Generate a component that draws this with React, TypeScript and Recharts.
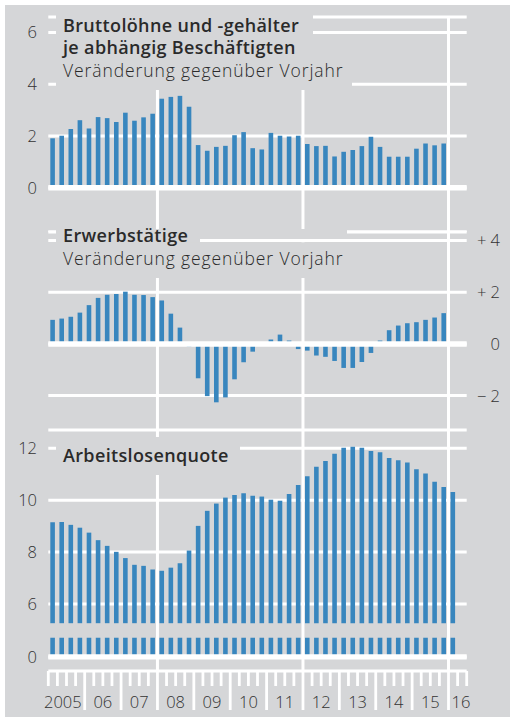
import React from 'react';
import { BarChart, Bar, XAxis, YAxis, CartesianGrid, ReferenceLine } from 'recharts';

// ---------- data ----------
const years: string[] = ['2005', '2006', '2007', '2008', '2009', '2010', '2011', '2012', '2013', '2014', '2015', '2016'];
const yearLabels: string[] = ['2005', '06', '07', '08', '09', '10', '11', '12', '13', '14', '15', '16'];
const quarterNames: string[] = ['Q1', 'Q2', 'Q3', 'Q4'];
const QUARTER_COUNT = 46; // 2005Q1 … 2016Q2 on the time axis

// Bruttolöhne und -gehälter je abhängig Beschäftigten, % ggü. Vorjahr (2005Q1–2015Q4)
const wages: number[] = [
  1.91, 2.01, 2.27, 2.61, 2.29, 2.73, 2.69, 2.54, 2.9, 2.59, 2.72, 2.86,
  3.44, 3.51, 3.55, 3.13, 1.65, 1.43, 1.58, 1.62, 2.03, 2.15, 1.53, 1.48,
  2.12, 2.01, 1.98, 2.01, 1.69, 1.61, 1.62, 1.21, 1.39, 1.46, 1.61, 1.97,
  1.58, 1.2, 1.2, 1.2, 1.51, 1.71, 1.64, 1.71,
];

// Erwerbstätige, % ggü. Vorjahr (2005Q1–2015Q4)
const employment: number[] = [
  0.93, 0.98, 1.05, 1.21, 1.5, 1.78, 1.9, 1.93, 2.02, 1.9, 1.89, 1.81,
  1.68, 1.17, 0.63, -0.1, -1.33, -2.02, -2.26, -2.07, -1.37, -0.71, -0.3, 0,
  0.17, 0.36, 0.13, -0.2, -0.26, -0.45, -0.5, -0.66, -0.93, -0.93, -0.7, -0.35,
  0.13, 0.53, 0.71, 0.8, 0.84, 0.93, 1.02, 1.19,
];

// Arbeitslosenquote in % (2005Q1–2016Q1)
const unemployment: number[] = [
  9.15, 9.16, 9.05, 8.94, 8.75, 8.46, 8.24, 8.01, 7.77, 7.51, 7.47, 7.33,
  7.28, 7.4, 7.57, 8.06, 9.01, 9.59, 9.87, 10.1, 10.2, 10.27, 10.17, 10.14,
  10.02, 9.98, 10.24, 10.59, 10.92, 11.29, 11.51, 11.79, 12.02, 12.06, 12.02, 11.9,
  11.85, 11.63, 11.54, 11.45, 11.19, 11.03, 10.71, 10.51, 10.32,
];

const wageTicks: number[] = [0, 2, 4, 6];
const employmentTicks: number[] = [-2, 0, 2, 4];
const unemploymentTicks: number[] = [6, 8, 10, 12];
const markerQuarters: string[] = ['2008Q1', '2012Q1', '2016Q1'];

// ---------- layout / style ----------
const BG = '#d5d6d8';
const BLUE = '#3886be';
const TEXT = '#2a2a2a';
const LABEL_COLOR = '#333333';
const FONT = '"Open Sans", "Noto Sans", sans-serif';
const W = 510;
const PLOT_L = 48.3;
const PLOT_R = 466.7;
const SLOT = (PLOT_R - PLOT_L) / QUARTER_COUNT;
const LEFT_LABEL_X = 37;
const RIGHT_LABEL_X = 500;
const LABEL_SIZE = 16.5;
const LABEL_WEIGHT = 300;

// broken axis of the unemployment panel (virtual units on a linear scale)
const BREAK_ZERO = 3.96; // where "0" sits
const BREAK_LOW_TOP = 4.7; // top of the stub below the break
const BREAK_HIGH_BASE = 5.26; // base of the bars above the break

const categories: string[] = years
  .flatMap((y) => quarterNames.map((q) => y + q))
  .slice(0, QUARTER_COUNT);

const data = categories.map((q, i) => ({
  q,
  w: i < wages.length ? wages[i] : null,
  e: i < employment.length ? employment[i] : null,
  u: i < unemployment.length ? unemployment[i] : null,
}));

const LeftTick = (props: any) => {
  const { y, payload } = props;
  const v = payload.value;
  const label = Math.abs(v - BREAK_ZERO) < 1e-6 ? '0' : String(v);
  return (
    <text x={LEFT_LABEL_X} y={y} dy="0.36em" textAnchor="end" fill={LABEL_COLOR} fontSize={LABEL_SIZE} fontWeight={LABEL_WEIGHT} fontFamily={FONT}>
      {label}
    </text>
  );
};

const RightTick = (props: any) => {
  const { y, payload } = props;
  const v = payload.value;
  const label = v > 0 ? `+ ${v}` : v < 0 ? `\u2212 ${Math.abs(v)}` : '0';
  return (
    <text x={RIGHT_LABEL_X} y={y} dy="0.36em" textAnchor="end" fill={LABEL_COLOR} fontSize={LABEL_SIZE} fontWeight={LABEL_WEIGHT} fontFamily={FONT}>
      {label}
    </text>
  );
};

const QuarterTick = (props: any) => {
  const { x, y, payload } = props;
  const value: string = payload.value;
  const year = value.slice(0, 4);
  const qn = Number(value.slice(5));
  const xs = x - SLOT / 2;
  const yi = years.indexOf(year);
  const isYearStart = qn === 1 && yi > 0;
  const isLast = value === categories[categories.length - 1];
  let label: React.ReactNode = null;
  if (qn === 1) {
    let lx = xs + 2 * SLOT;
    let anchor: 'start' | 'middle' | 'end' = 'middle';
    if (yi === 0) {
      lx = xs + 4 * SLOT - 3;
      anchor = 'end';
    } else if (yi === years.length - 1) {
      lx = xs + 3;
      anchor = 'start';
    }
    label = (
      <text x={lx} y={y + 37} textAnchor={anchor} fill={LABEL_COLOR} fontSize={LABEL_SIZE} fontWeight={LABEL_WEIGHT} fontFamily={FONT}>
        {yearLabels[yi]}
      </text>
    );
  }
  return (
    <g>
      <line x1={xs} x2={xs} y1={y} y2={y + (isYearStart ? 39 : 15)} stroke="#fff" strokeWidth={2.8} />
      {isLast && <line x1={x + SLOT / 2} x2={x + SLOT / 2} y1={y} y2={y + 15} stroke="#fff" strokeWidth={2.8} />}
      {label}
    </g>
  );
};

const markers = (axisId?: string) =>
  markerQuarters.map((m) => (
    <ReferenceLine key={m} x={m} xAxisId={axisId} position="start" stroke="#fff" strokeWidth={3} />
  ));

const titleStyle = { fontSize: 18, fontWeight: 600, letterSpacing: 0.35 } as const;
const subStyle = { fontSize: 17.5, fontWeight: 300, letterSpacing: 0.9 } as const;

export default function App() {
  return (
    <div style={{ position: 'absolute', left: 0, top: 0, width: W, height: 717, background: '#fff', overflow: 'hidden' }}>
      <div style={{ position: 'absolute', left: 5, top: 5, width: W - 5, height: 712, background: BG }} />

      {/* Panel 1: Bruttolöhne */}
      <div style={{ position: 'absolute', left: 0, top: 0 }}>
        <BarChart width={W} height={232} data={data} margin={{ top: 17, right: W - PLOT_R, bottom: 0, left: 0 }} barSize={4.6}>
          <CartesianGrid vertical={false} stroke="#fff" strokeWidth={3} />
          <XAxis dataKey="q" hide />
          <YAxis width={PLOT_L} domain={[-1.707, 6.595]} ticks={wageTicks} axisLine={false} tickLine={false} tick={<LeftTick />} interval={0} />
          {markers()}
          <Bar dataKey="w" fill={BLUE} isAnimationActive={false} />
          <ReferenceLine y={0} stroke="#fff" strokeWidth={5.5} />
        </BarChart>
      </div>

      {/* Panel 2: Erwerbstätige */}
      <div style={{ position: 'absolute', left: 0, top: 212 }}>
        <BarChart width={W} height={218} data={data} margin={{ top: 20, right: 0, bottom: 0, left: PLOT_L }} barSize={4.6}>
          <CartesianGrid vertical={false} stroke="#fff" strokeWidth={3} />
          <XAxis dataKey="q" hide />
          <YAxis orientation="right" width={W - PLOT_R} domain={[-3.331, 4.329]} ticks={employmentTicks} axisLine={false} tickLine={false} tick={<RightTick />} interval={0} />
          {markers()}
          <Bar dataKey="e" fill={BLUE} isAnimationActive={false} />
          <ReferenceLine y={0} stroke="#fff" strokeWidth={5.5} />
        </BarChart>
      </div>

      {/* Panel 3: Arbeitslosenquote */}
      <div style={{ position: 'absolute', left: 0, top: 430 }}>
        <BarChart width={W} height={287} data={data} margin={{ top: 0, right: W - PLOT_R, bottom: 0, left: 0 }} barSize={4.6}>
          <CartesianGrid vertical={false} stroke="#fff" strokeWidth={3} />
          <XAxis xAxisId="a" dataKey="q" height={46} interval={0} axisLine={false} tickLine={false} tickSize={0} tickMargin={0} tick={<QuarterTick />} />
          <XAxis xAxisId="b" dataKey="q" hide />
          <YAxis width={PLOT_L} domain={[3.418, 12.705]} ticks={[BREAK_ZERO, ...unemploymentTicks]} axisLine={false} tickLine={false} tick={<LeftTick />} interval={0} />
          {markers('a')}
          <Bar xAxisId="b" dataKey={(d: any) => (d.u == null ? null : [BREAK_ZERO, BREAK_LOW_TOP])} fill={BLUE} isAnimationActive={false} />
          <Bar xAxisId="a" dataKey={(d: any) => (d.u == null ? null : [BREAK_HIGH_BASE, d.u])} fill={BLUE} isAnimationActive={false} />
          <ReferenceLine xAxisId="a" y={BREAK_ZERO} stroke="#fff" strokeWidth={5.3} />
        </BarChart>
      </div>

      {/* titles with masking boxes */}
      <svg width={W} height={717} style={{ position: 'absolute', left: 0, top: 0, pointerEvents: 'none' }}>
        <rect x={56} y={14} width={257} height={46} fill={BG} />
        <rect x={56} y={60} width={296} height={30} fill={BG} />
        <rect x={56} y={229} width={144} height={21} fill={BG} />
        <rect x={200} y={229} width={147} height={10} fill={BG} />
        <rect x={56} y={242.3} width={294} height={35.7} fill={BG} />
        <rect x={56} y={437} width={184} height={38} fill={BG} />
        <g fontFamily={FONT} fill={TEXT}>
          <text x={63} y={31.7} {...titleStyle}>Bruttolöhne und -gehälter</text>
          <text x={63} y={54} {...titleStyle}>je abhängig Beschäftigten</text>
          <text x={63} y={77.3} {...subStyle}>Veränderung gegenüber Vorjahr</text>
          <text x={63} y={241.7} {...titleStyle}>Erwerbstätige</text>
          <text x={63} y={265} {...subStyle}>Veränderung gegenüber Vorjahr</text>
          <text x={63} y={462.3} {...titleStyle}>Arbeitslosenquote</text>
        </g>
      </svg>
    </div>
  );
}
